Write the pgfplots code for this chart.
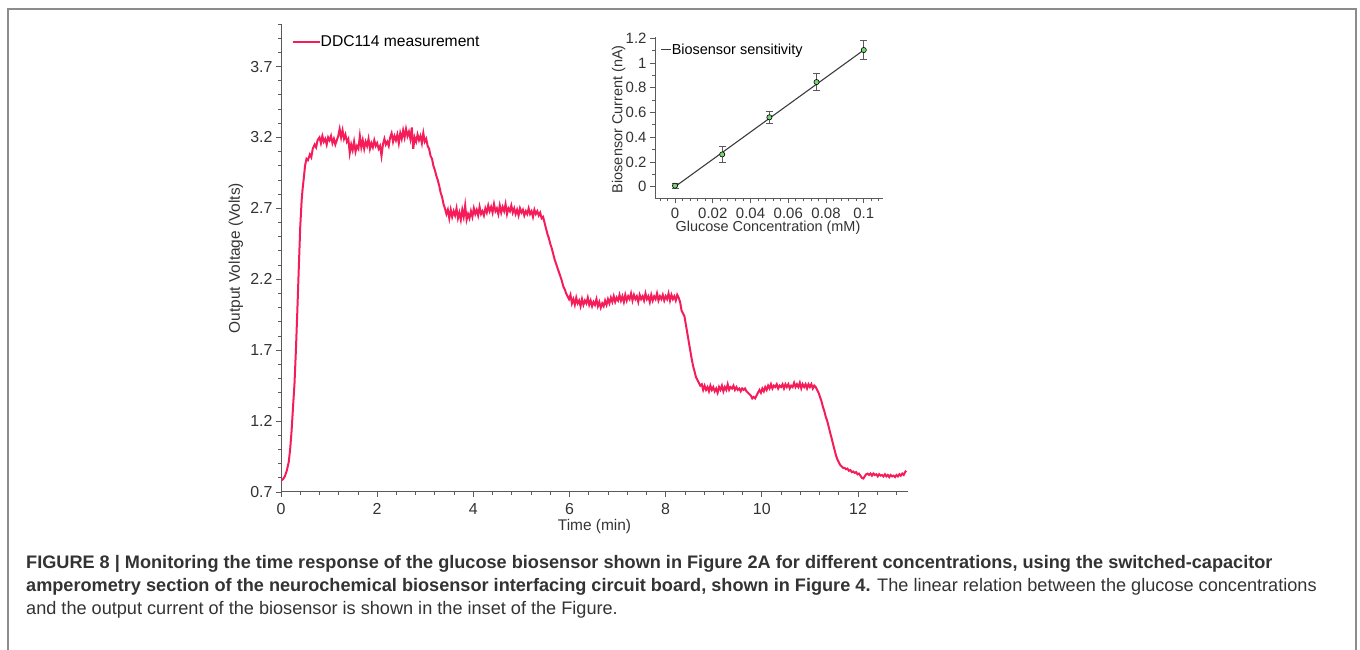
\documentclass[border=0pt]{standalone}
\usepackage{fontspec}
\setmainfont{Liberation Sans}
\usepackage{pgfplots}
\pgfplotsset{compat=1.18}
\definecolor{curve}{RGB}{245,28,90}
\definecolor{axgray}{RGB}{90,90,90}
\definecolor{txt}{RGB}{51,51,51}
\definecolor{framec}{RGB}{140,140,140}
\definecolor{mk}{RGB}{120,215,120}
\definecolor{fitline}{RGB}{60,60,60}
\begin{document}
\begin{tikzpicture}[x=1bp,y=1bp]
\path[use as bounding box] (0,0) rectangle (1360,650);
\draw[framec, line width=2bp] (8,0) -- (8,641) -- (1356,641) -- (1356,0);

\begin{axis}[
 at={(281bp,158bp)}, anchor=south west,
 width=627bp, height=468bp, scale only axis,
 xmin=0, xmax=13.04, ymin=0.7, ymax=4.0,
 axis x line=bottom, axis y line=left,
 axis line style={-, axgray, line width=1bp},
 tick align=outside,
 major tick length=5bp, minor tick length=3bp,
 every tick/.style={axgray, line width=0.8bp},
 xtick={0,2,4,6,8,10,12},
 ytick={0.7,1.2,1.7,2.2,2.7,3.2,3.7},
 yticklabels={0.7,1.2,1.7,2.2,2.7,3.2,3.7},
 minor xtick={0.4,0.8,1.2,1.6,2.4,2.8,3.2,3.6,4.4,4.8,5.2,5.6,6.4,6.8,7.2,7.6,8.4,8.8,9.2,9.6,10.4,10.8,11.2,11.6,12.4,12.8},
 minor ytick={0.8,0.9,1.0,1.1,1.3,1.4,1.5,1.6,1.8,1.9,2.0,2.1,2.3,2.4,2.5,2.6,2.8,2.9,3.0,3.1,3.3,3.4,3.5,3.6,3.8,3.9,4.0},
 tick label style={font=\fontsize{16}{18}\selectfont, text=txt},
 xticklabel style={yshift=-3bp},
 /pgf/number format/assume math mode=true,
 xlabel={Time (min)}, ylabel={Output Voltage (Volts)},
 label style={font=\fontsize{15.5}{17}\selectfont, text=txt},
 xlabel style={at={(axis description cs:0.5,-0.0727)}, anchor=center},
 ylabel style={at={(axis description cs:-0.0718,0.5)}, anchor=center},
 legend style={at={(axis description cs:0.0171,0.961)}, anchor=west, draw=none, fill=none,
   inner sep=0pt, outer sep=0pt, font=\fontsize{15.7}{17}\selectfont,
   nodes={inner sep=0pt}, /tikz/every even column/.append style={column sep=3bp}},
 legend cell align=left,
 legend image code/.code={\draw[#1] (0bp,0bp) -- (27bp,0bp);},
]
\addplot[curve, line width=2bp] table {
t v
0.00 0.78
0.04 0.79
0.08 0.81
0.12 0.85
0.16 0.91
0.19 1.00
0.22 1.13
0.25 1.30
0.28 1.46
0.31 1.70
0.34 1.98
0.37 2.28
0.40 2.57
0.43 2.76
0.45 2.84
0.47 2.90
0.50 3.00
0.53 3.05
0.56 3.04
0.60 3.08
0.63 3.06
0.66 3.12
0.70 3.15
0.73 3.13
0.76 3.18
0.80 3.20
0.83 3.16
0.86 3.21
0.89 3.17
0.92 3.19
0.95 3.15
0.98 3.20
1.01 3.18
1.04 3.21
1.07 3.16
1.10 3.19
1.13 3.15
1.16 3.18
1.19 3.21
1.22 3.26
1.25 3.20
1.28 3.25
1.31 3.19
1.34 3.22
1.37 3.17
1.40 3.19
1.43 3.09
1.46 3.15
1.49 3.11
1.52 3.17
1.55 3.10
1.58 3.14
1.61 3.12
1.64 3.21
1.67 3.13
1.70 3.18
1.73 3.12
1.76 3.17
1.79 3.14
1.82 3.19
1.85 3.12
1.88 3.16
1.91 3.13
1.94 3.18
1.97 3.14
2.00 3.16
2.03 3.12
2.06 3.14
2.09 3.07
2.12 3.15
2.15 3.19
2.18 3.15
2.21 3.17
2.24 3.14
2.27 3.20
2.30 3.23
2.33 3.17
2.36 3.21
2.39 3.18
2.42 3.22
2.45 3.16
2.48 3.23
2.51 3.19
2.54 3.25
2.57 3.20
2.60 3.26
2.63 3.21
2.66 3.24
2.69 3.19
2.72 3.27
2.75 3.12
2.78 3.20
2.81 3.17
2.84 3.22
2.87 3.18
2.90 3.21
2.93 3.16
2.96 3.23
2.99 3.17
3.02 3.19
3.05 3.14
3.08 3.12
3.11 3.07
3.14 3.05
3.17 3.00
3.20 2.97
3.23 2.93
3.26 2.90
3.29 2.86
3.32 2.81
3.35 2.78
3.38 2.73
3.41 2.70
3.44 2.66
3.47 2.69
3.50 2.63
3.53 2.69
3.56 2.64
3.59 2.68
3.62 2.65
3.65 2.70
3.68 2.63
3.71 2.67
3.74 2.62
3.77 2.69
3.80 2.64
3.83 2.72
3.86 2.62
3.89 2.66
3.92 2.63
3.95 2.68
3.98 2.64
4.01 2.70
4.04 2.66
4.07 2.69
4.10 2.65
4.13 2.71
4.16 2.66
4.19 2.68
4.22 2.65
4.25 2.70
4.28 2.67
4.31 2.72
4.34 2.68
4.37 2.71
4.40 2.67
4.43 2.73
4.46 2.68
4.49 2.70
4.52 2.66
4.55 2.72
4.58 2.67
4.61 2.71
4.64 2.68
4.67 2.73
4.70 2.66
4.73 2.70
4.76 2.68
4.79 2.72
4.82 2.67
4.85 2.70
4.88 2.66
4.91 2.69
4.94 2.65
4.97 2.70
5.00 2.67
5.03 2.69
5.06 2.65
5.09 2.68
5.12 2.66
5.15 2.70
5.18 2.66
5.21 2.68
5.24 2.64
5.27 2.69
5.30 2.66
5.33 2.68
5.36 2.65
5.39 2.67
5.42 2.63
5.45 2.64
5.48 2.60
5.51 2.56
5.54 2.52
5.57 2.49
5.60 2.45
5.63 2.42
5.66 2.38
5.69 2.34
5.72 2.31
5.75 2.28
5.78 2.25
5.81 2.22
5.84 2.19
5.87 2.15
5.90 2.13
5.93 2.10
5.96 2.08
5.99 2.06
6.02 2.09
6.05 2.03
6.08 2.06
6.11 2.02
6.14 2.07
6.17 2.03
6.20 2.05
6.23 2.01
6.26 2.06
6.29 2.02
6.32 2.05
6.35 2.03
6.38 2.07
6.41 2.02
6.44 2.05
6.47 2.01
6.50 2.04
6.53 2.02
6.56 2.06
6.59 2.01
6.62 2.04
6.65 2.00
6.68 2.03
6.71 2.01
6.74 2.05
6.77 2.02
6.80 2.06
6.83 2.03
6.86 2.07
6.89 2.04
6.92 2.08
6.95 2.04
6.98 2.07
7.01 2.05
7.04 2.09
7.07 2.05
7.10 2.08
7.13 2.04
7.16 2.09
7.19 2.05
7.22 2.08
7.25 2.06
7.28 2.10
7.31 2.05
7.34 2.09
7.37 2.06
7.40 2.08
7.43 2.04
7.46 2.09
7.49 2.06
7.52 2.08
7.55 2.05
7.58 2.10
7.61 2.06
7.64 2.08
7.67 2.04
7.70 2.09
7.73 2.05
7.76 2.08
7.79 2.06
7.82 2.10
7.85 2.05
7.88 2.08
7.91 2.06
7.94 2.09
7.97 2.05
8.00 2.08
8.03 2.06
8.06 2.10
8.09 2.05
8.12 2.09
8.15 2.06
8.18 2.08
8.21 2.05
8.24 2.09
8.27 2.07
8.30 2.04
8.33 1.98
8.36 1.96
8.39 1.94
8.42 1.88
8.45 1.82
8.48 1.76
8.51 1.70
8.54 1.64
8.57 1.59
8.60 1.55
8.63 1.51
8.66 1.49
8.69 1.47
8.72 1.45
8.75 1.46
8.78 1.42
8.81 1.45
8.84 1.42
8.87 1.44
8.90 1.41
8.93 1.45
8.96 1.42
8.99 1.44
9.02 1.41
9.05 1.43
9.08 1.40
9.11 1.44
9.14 1.42
9.17 1.45
9.20 1.41
9.23 1.44
9.26 1.42
9.29 1.46
9.32 1.42
9.35 1.44
9.38 1.43
9.41 1.45
9.44 1.42
9.47 1.44
9.50 1.42
9.53 1.43
9.56 1.41
9.59 1.43
9.62 1.42
9.65 1.43
9.68 1.41
9.71 1.40
9.74 1.39
9.77 1.38
9.80 1.36
9.83 1.37
9.86 1.36
9.89 1.38
9.92 1.40
9.95 1.42
9.98 1.40
10.01 1.43
10.04 1.41
10.07 1.44
10.10 1.42
10.13 1.45
10.16 1.43
10.19 1.46
10.22 1.43
10.25 1.45
10.28 1.44
10.31 1.46
10.34 1.43
10.37 1.45
10.40 1.44
10.43 1.46
10.46 1.43
10.49 1.46
10.52 1.44
10.55 1.46
10.58 1.43
10.61 1.45
10.64 1.44
10.67 1.47
10.70 1.44
10.73 1.46
10.76 1.44
10.79 1.47
10.82 1.43
10.85 1.46
10.88 1.44
10.91 1.46
10.94 1.43
10.97 1.46
11.00 1.44
11.03 1.46
11.06 1.43
11.09 1.45
11.12 1.44
11.15 1.42
11.18 1.40
11.21 1.37
11.24 1.34
11.27 1.30
11.30 1.27
11.33 1.23
11.36 1.20
11.39 1.16
11.42 1.12
11.45 1.08
11.48 1.04
11.51 1.00
11.54 0.96
11.57 0.93
11.60 0.91
11.63 0.89
11.66 0.88
11.69 0.87
11.72 0.87
11.75 0.86
11.78 0.865
11.81 0.85
11.84 0.855
11.87 0.84
11.90 0.845
11.93 0.835
11.96 0.84
11.99 0.825
12.02 0.83
12.05 0.815
12.08 0.80
12.11 0.795
12.14 0.81
12.17 0.825
12.20 0.83
12.23 0.82
12.26 0.83
12.29 0.815
12.32 0.83
12.35 0.82
12.38 0.825
12.41 0.81
12.44 0.825
12.47 0.815
12.50 0.82
12.53 0.81
12.56 0.825
12.59 0.81
12.62 0.82
12.65 0.805
12.68 0.82
12.71 0.81
12.74 0.815
12.77 0.805
12.80 0.82
12.83 0.81
12.86 0.825
12.89 0.815
12.92 0.83
12.95 0.82
12.98 0.84
13.00 0.85
};
\addlegendentry{DDC114 measurement}
\end{axis}

\begin{axis}[
 at={(655bp,451.7bp)}, anchor=south west,
 width=228bp, height=161.6bp, scale only axis,
 xmin=-0.0106, xmax=0.1102, ymin=-0.094, ymax=1.213,
 axis x line=bottom, axis y line=left,
 axis line style={-, axgray, line width=1bp},
 tick align=outside,
 major tick length=5bp, minor tick length=3bp,
 every tick/.style={axgray, line width=0.8bp},
 xtick={0,0.02,0.04,0.06,0.08,0.1},
 xticklabels={0,0.02,0.04,0.06,0.08,0.1},
 ytick={0,0.2,0.4,0.6,0.8,1,1.2},
 yticklabels={0,0.2,0.4,0.6,0.8,1,1.2},
 minor xtick={-0.008,-0.004,0.004,0.008,0.012,0.016,0.024,0.028,0.032,0.036,0.044,0.048,0.052,0.056,0.064,0.068,0.072,0.076,0.084,0.088,0.092,0.096,0.104,0.108},
 minor ytick={0.1,0.3,0.5,0.7,0.9,1.1},
 tick label style={font=\fontsize{15}{17}\selectfont, text=txt},
 xticklabel style={yshift=-1bp},
 /pgf/number format/assume math mode=true,
 xlabel={Glucose Concentration (mM)}, ylabel={Biosensor Current (nA)},
 label style={font=\fontsize{14.5}{16}\selectfont, text=txt},
 xlabel style={at={(axis description cs:0.4956,-0.18)}, anchor=center},
 ylabel style={at={(axis description cs:-0.16,0.489)}, anchor=center},
 legend style={at={(axis description cs:0.025,0.918)}, anchor=west, draw=none, fill=none,
   inner sep=0pt, outer sep=0pt, font=\fontsize{14.5}{16}\selectfont,
   nodes={inner sep=0pt}, /tikz/every even column/.append style={column sep=0.5bp}},
 legend cell align=left,
 legend image code/.code={\draw[#1] (0bp,0bp) -- (10bp,0bp);},
]
\addplot[fitline, line width=1.1bp] coordinates {(0,0) (0.1,1.105)};
\addlegendentry{Biosensor sensitivity}
\addplot[only marks, mark=*, mark size=2.6bp, mark options={fill=mk, draw=black, line width=0.6bp},
  error bars/.cd, y dir=both, y explicit,
  error bar style={axgray, line width=0.9bp},
  error mark options={rotate=90, mark size=3.5bp, axgray, line width=0.9bp}]
  coordinates {
  (0,0.008) +- (0,0.02)
  (0.025,0.261) +- (0,0.063)
  (0.05,0.561) +- (0,0.051)
  (0.075,0.846) +- (0,0.067)
  (0.1,1.105) +- (0,0.078)
  };
\end{axis}

\node[anchor=base west, inner sep=0pt, text=txt, font=\fontsize{18.2}{20}\selectfont\bfseries] at (26,81)
  {FIGURE 8 | Monitoring the time response of the glucose biosensor shown in Figure 2A for different concentrations, using the switched-capacitor};
\node[anchor=base west, inner sep=0pt, text=txt, font=\fontsize{18.2}{20}\selectfont] at (26,58)
  {{\bfseries amperometry section of the neurochemical biosensor interfacing circuit board, shown in Figure 4.} The linear relation between the glucose concentrations};
\node[anchor=base west, inner sep=0pt, text=txt, font=\fontsize{18.2}{20}\selectfont] at (26,35)
  {and the output current of the biosensor is shown in the inset of the Figure.};
\end{tikzpicture}
\end{document}
